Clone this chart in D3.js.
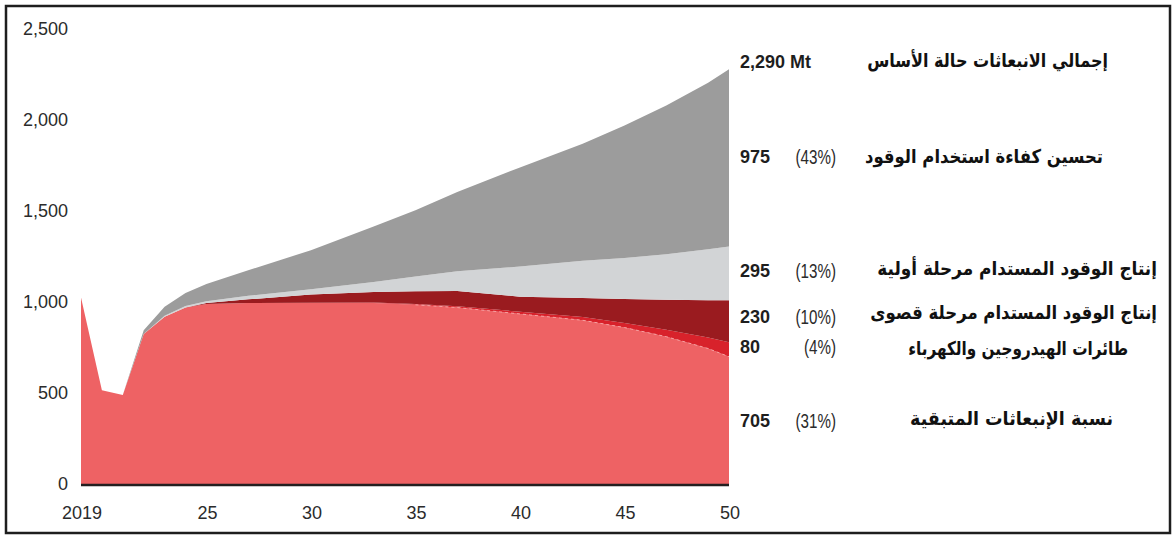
<!DOCTYPE html>
<html>
<head>
<meta charset="utf-8">
<script src="https://cdn.jsdelivr.net/npm/d3@7"></script>
<style>
  body { margin: 0; background: #fff; }
  svg { display: block; }
</style>
</head>
<body>
<div id="chart"></div>
<script>
// years (not evenly spaced, linear between them)
const years = [2019, 2020, 2021, 2022, 2023, 2024, 2025, 2027, 2030, 2033, 2035, 2037, 2040, 2043, 2045, 2047, 2049, 2050];

// stacked series, bottom to top (Mt CO2)
const remaining  = [1030, 520, 495, 830, 925, 975, 995, 1000, 1000, 1000, 990, 975, 940, 905, 865, 815, 750, 705];
const hydrogen   = [0, 0, 0, 0, 0, 0, 0, 0, 2, 3, 5, 7, 12, 18, 25, 38, 60, 80];
const lateSaf    = [0, 0, 0, 0, 0, 0, 5, 20, 45, 57, 70, 84, 83, 104, 132, 165, 205, 230];
const earlySaf   = [0, 0, 0, 0, 5, 8, 10, 20, 28, 55, 80, 109, 165, 205, 225, 250, 280, 295];
const efficiency = [0, 0, 0, 20, 50, 72, 95, 140, 215, 305, 365, 435, 545, 643, 728, 817, 915, 975];

const seriesKeys = ["remaining", "hydrogen", "lateSaf", "earlySaf", "efficiency"];
const seriesColors = ["#ee6264", "#d8222b", "#9a1b1f", "#d2d4d6", "#9c9c9c"];

const yTicks = [0, 500, 1000, 1500, 2000, 2500];
const xTicks = [2019, 2025, 2030, 2035, 2040, 2045, 2050];
const xTickLabels = ["2019", "25", "30", "35", "40", "45", "50"];

// right hand side labels
const endValues = ["2,290 Mt", "975", "295", "230", "80", "705"];
const endShares = ["", "(43%)", "(13%)", "(10%)", "(4%)", "(31%)"];
const endNames = [
  "إجمالي الانبعاثات حالة الأساس",
  "تحسين كفاءة استخدام الوقود",
  "إنتاج الوقود المستدام مرحلة أولية",
  "إنتاج الوقود المستدام مرحلة قصوى",
  "طائرات الهيدروجين والكهرباء",
  "نسبة الإنبعاثات المتبقية"
];

const width = 1176, height = 537;
const margin = {top: 30, left: 81, right: 447, bottom: 52};

const svg = d3.select("#chart").append("svg")
  .attr("width", width)
  .attr("height", height);

// frame round the whole picture
svg.append("rect")
  .attr("x", 6).attr("y", 6)
  .attr("width", 1164).attr("height", 527)
  .attr("fill", "none")
  .attr("stroke", "#1e1e1e")
  .attr("stroke-width", 2.5);

const x = d3.scaleLinear()
  .domain([2019, 2050])
  .range([margin.left, width - margin.right]);

const y = d3.scaleLinear()
  .domain([0, 2500])
  .range([height - margin.bottom, margin.top]);

// build rows for d3.stack
const rows = years.map((yr, i) => ({
  year: yr,
  remaining: remaining[i],
  hydrogen: hydrogen[i],
  lateSaf: lateSaf[i],
  earlySaf: earlySaf[i],
  efficiency: efficiency[i]
}));

const stacked = d3.stack().keys(seriesKeys)(rows);

const area = d3.area()
  .x(d => x(d.data.year))
  .y0(d => y(d[0]))
  .y1(d => y(d[1]));

svg.append("g")
  .selectAll("path")
  .data(stacked)
  .enter().append("path")
  .attr("d", area)
  .attr("fill", (d, i) => seriesColors[i]);

// faint dashed seam on top of the remaining emissions
svg.append("path")
  .datum(stacked[0].filter(d => d.data.year >= 2035))
  .attr("d", d3.line().x(d => x(d.data.year)).y(d => y(d[1])))
  .attr("fill", "none")
  .attr("stroke", "#f7a0a0")
  .attr("stroke-width", 1)
  .attr("stroke-dasharray", "3,3");

// baseline
svg.append("line")
  .attr("x1", x(2019)).attr("x2", x(2050))
  .attr("y1", y(0)).attr("y2", y(0))
  .attr("stroke", "#231f20")
  .attr("stroke-width", 2.5);

// y axis labels
svg.append("g")
  .selectAll("text")
  .data(yTicks)
  .enter().append("text")
  .attr("x", 68)
  .attr("y", d => y(d) - 1)
  .attr("dy", "0.35em")
  .attr("text-anchor", "end")
  .attr("font-family", "Liberation Sans, Arial, sans-serif")
  .attr("font-size", 18)
  .attr("fill", "#2b2b2b")
  .text(d => d3.format(",")(d));

// x axis labels
svg.append("g")
  .selectAll("text")
  .data(xTicks)
  .enter().append("text")
  .attr("x", d => x(d) + 1)
  .attr("y", 519)
  .attr("text-anchor", "middle")
  .attr("font-family", "Liberation Sans, Arial, sans-serif")
  .attr("font-size", 18)
  .attr("fill", "#2b2b2b")
  .text((d, i) => xTickLabels[i]);

// legend rows on the right
const rowY = [62, 157, 271, 317, 347, 421];
const nameY = [60, 156, 268, 312, 348, 418];
const nameRight = [1108, 1103, 1157, 1157, 1128, 1113];
const nameWidth = [241, 238, 280, 287, 220, 203];

const legend = svg.append("g");

legend.selectAll(".val")
  .data(endValues)
  .enter().append("text")
  .attr("class", "val")
  .attr("x", 740)
  .attr("y", (d, i) => rowY[i])
  .attr("dy", "0.35em")
  .attr("font-family", "Liberation Sans, Arial, sans-serif")
  .attr("font-weight", "bold")
  .attr("font-size", 18)
  .attr("fill", "#1e1e1e")
  .text(d => d);

// the shares are set in a narrow face, squeeze them
legend.selectAll(".pct")
  .data(endShares)
  .enter().append("text")
  .attr("class", "pct")
  .attr("transform", (d, i) => `translate(836,${rowY[i]}) scale(0.74,1)`)
  .attr("dy", "0.35em")
  .attr("text-anchor", "end")
  .attr("font-family", "Liberation Sans, Arial, sans-serif")
  .attr("font-size", 20.5)
  .attr("fill", "#2b2b2b")
  .text(d => d);

// arabic names, scaled to the width they take in the picture
legend.selectAll(".name")
  .data(endNames)
  .enter().append("text")
  .attr("class", "name")
  .attr("direction", "rtl")
  .attr("text-anchor", "start")
  .attr("dy", "0.35em")
  .attr("font-family", "DejaVu Sans, sans-serif")
  .attr("font-weight", "bold")
  .attr("font-size", 19)
  .attr("fill", "#111")
  .text(d => d)
  .attr("transform", function(d, i) {
    const w = this.getComputedTextLength();
    const sx = w > 0 ? nameWidth[i] / w : 1;
    return `translate(${nameRight[i]},${nameY[i]}) scale(${sx},1)`;
  });
</script>
</body>
</html>
